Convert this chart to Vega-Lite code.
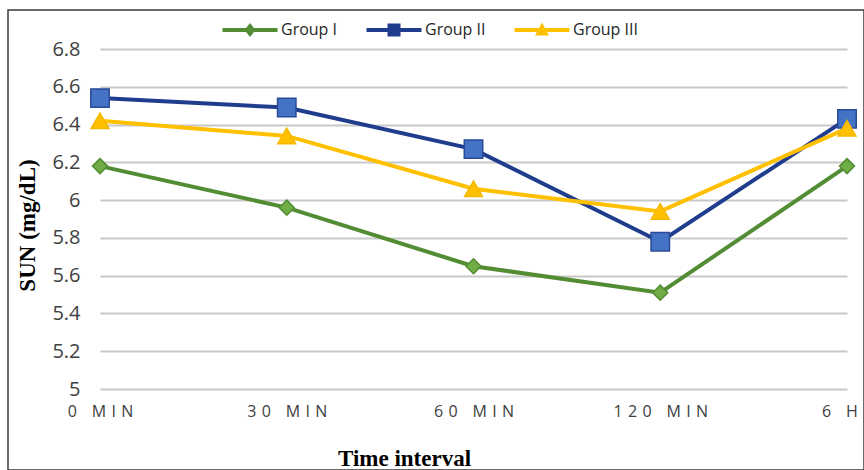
{
  "$schema": "https://vega.github.io/schema/vega-lite/v6.json",
  "width": 856,
  "height": 460,
  "autosize": {"type": "none"},
  "padding": {"left": 8, "top": 10, "right": 0, "bottom": 0},
  "background": "white",
  "config": {
    "view": {"stroke": "#3a3a3a", "strokeWidth": 1.5}
  },
  "data": {
    "values": [
      {"group": "Group I", "time": "0 MIN", "sun": 6.18},
      {"group": "Group I", "time": "30 MIN", "sun": 5.96},
      {"group": "Group I", "time": "60 MIN", "sun": 5.65},
      {"group": "Group I", "time": "120 MIN", "sun": 5.51},
      {"group": "Group I", "time": "6 HR", "sun": 6.18},
      {"group": "Group II", "time": "0 MIN", "sun": 6.54},
      {"group": "Group II", "time": "30 MIN", "sun": 6.49},
      {"group": "Group II", "time": "60 MIN", "sun": 6.27},
      {"group": "Group II", "time": "120 MIN", "sun": 5.78},
      {"group": "Group II", "time": "6 HR", "sun": 6.43},
      {"group": "Group III", "time": "0 MIN", "sun": 6.42},
      {"group": "Group III", "time": "30 MIN", "sun": 6.34},
      {"group": "Group III", "time": "60 MIN", "sun": 6.06},
      {"group": "Group III", "time": "120 MIN", "sun": 5.94},
      {"group": "Group III", "time": "6 HR", "sun": 6.38}
    ]
  },
  "encoding": {
    "x": {
      "field": "time",
      "type": "ordinal",
      "sort": ["0 MIN", "30 MIN", "60 MIN", "120 MIN", "6 HR"],
      "scale": {"type": "point", "padding": 0, "range": [92, 839]},
      "axis": {
        "title": "Time interval",
        "titleFont": "Liberation Serif",
        "titleFontSize": 23,
        "titleFontWeight": "bold",
        "titleColor": "#000000",
        "titleX": 396,
        "titlePadding": 28,
        "offset": -81,
        "domain": false,
        "ticks": false,
        "grid": false,
        "labelAngle": 0,
        "labelOverlap": false,
        "labelFont": "Open Sans",
        "labelFontSize": 16,
        "labelColor": "#404040",
        "labelPadding": 14,
        "labelExpr": "join(split(datum.label, ''), '\u2004')"
      }
    },
    "y": {
      "field": "sun",
      "type": "quantitative",
      "scale": {"domain": [5, 6.8], "range": [379, 39], "nice": false, "zero": false},
      "axis": {
        "title": "SUN (mg/dL)",
        "titleFont": "Liberation Serif",
        "titleFontSize": 23,
        "titleFontWeight": "bold",
        "titleColor": "#000000",
        "titlePadding": 12,
        "titleY": 215,
        "offset": -92,
        "values": [5, 5.2, 5.4, 5.6, 5.8, 6, 6.2, 6.4, 6.6, 6.8],
        "format": "~g",
        "grid": true,
        "gridColor": "#c8c8c8",
        "gridWidth": 2,
        "domain": false,
        "ticks": false,
        "labelFont": "Open Sans",
        "labelFontSize": 20,
        "labelColor": "#404040",
        "labelPadding": 20
      }
    }
  },
  "layer": [
    {
      "mark": {"type": "line", "strokeWidth": 4},
      "encoding": {
        "color": {
          "field": "group",
          "type": "nominal",
          "scale": {
            "domain": ["Group I", "Group II", "Group III"],
            "range": ["#528c33", "#1f3d8c", "#ffc000"]
          },
          "legend": {
            "orient": "none",
            "legendX": 234,
            "legendY": 12,
            "direction": "horizontal",
            "title": null,
            "padding": 0,
            "symbolSize": 100,
            "labelOffset": 23,
            "columnPadding": 28,
            "labelFont": "Open Sans",
            "labelFontSize": 16,
            "labelColor": "#262626",
            "encode": {
              "symbols": {
                "update": {
                  "shape": {"signal": "datum.value === 'Group I' ? 'M-5.5,-0.4H5.5V0.4H-5.5Z M0,-1.4L1.1,0L0,1.4L-1.1,0Z' : datum.value === 'Group II' ? 'M-5.5,-0.4H5.5V0.4H-5.5Z M-1.3,-1.3H1.3V1.3H-1.3Z' : 'M-5.5,-0.4H5.5V0.4H-5.5Z M0,-1.5L1.4,1.1L-1.4,1.1Z'"},
                  "fill": {"scale": "color", "field": "value"},
                  "stroke": {"value": "transparent"},
                  "strokeWidth": {"value": 0},
                  "opacity": {"value": 1}
                }
              }
            }
          }
        }
      }
    },
    {
      "transform": [{"filter": {"field": "group", "equal": "Group I"}}],
      "mark": {"type": "point", "shape": "diamond", "size": 225, "filled": true, "fill": "#70ad47", "stroke": "#528c33", "strokeWidth": 1.5, "opacity": 1}
    },
    {
      "transform": [{"filter": {"field": "group", "equal": "Group II"}}],
      "mark": {"type": "point", "shape": "square", "size": 340, "filled": true, "fill": "#4472c4", "stroke": "#2a4a9a", "strokeWidth": 1.5, "opacity": 1}
    },
    {
      "transform": [{"filter": {"field": "group", "equal": "Group III"}}],
      "mark": {"type": "point", "shape": "triangle-up", "size": 320, "filled": true, "fill": "#ffc000", "stroke": "#f5b800", "strokeWidth": 1.5, "opacity": 1}
    }
  ]
}
